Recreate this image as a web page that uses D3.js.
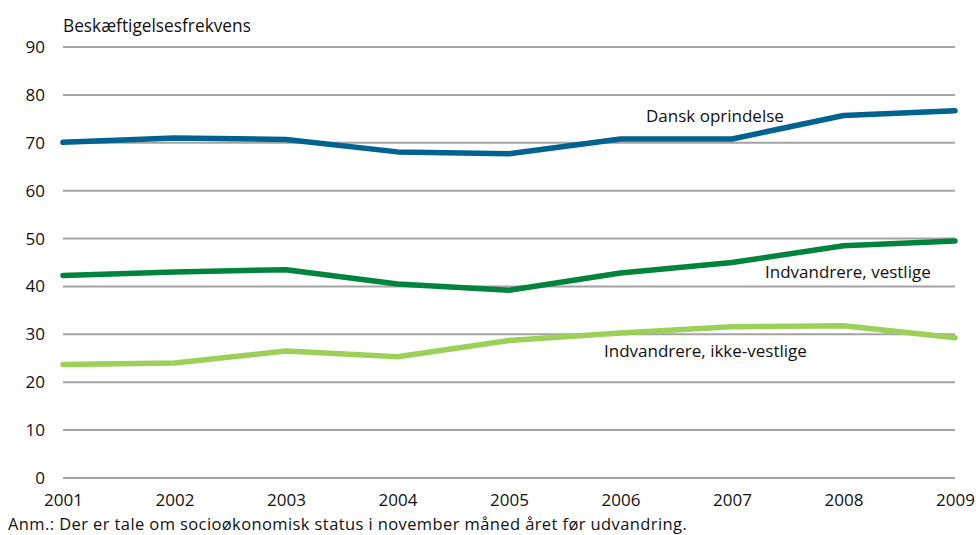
<!DOCTYPE html>
<html>
<head>
<meta charset="utf-8">
<script src="https://cdn.jsdelivr.net/npm/d3@7"></script>
<style>
  body { margin: 0; background: #fff; }
  text { font-family: "Open Sans", sans-serif; fill: #111; }
</style>
</head>
<body>
<div id="chart"></div>
<script>
var width = 976, height = 535;

// Data
var years = [2001, 2002, 2003, 2004, 2005, 2006, 2007, 2008, 2009];
var dansk = [70.1, 71.0, 70.7, 68.1, 67.7, 70.8, 70.8, 75.7, 76.7];
var vestlige = [42.3, 43.0, 43.5, 40.5, 39.2, 42.8, 45.0, 48.5, 49.5];
var ikkeVestlige = [23.7, 24.0, 26.5, 25.3, 28.7, 30.3, 31.6, 31.8, 29.3];
var yTicks = [0, 10, 20, 30, 40, 50, 60, 70, 80, 90];

var series = [
  { name: "Dansk oprindelse", values: dansk, color: "#00628f", lx: 646, ly: 122 },
  { name: "Indvandrere, vestlige", values: vestlige, color: "#00843d", lx: 765, ly: 278 },
  { name: "Indvandrere, ikke-vestlige", values: ikkeVestlige, color: "#9cd058", lx: 604, ly: 357 }
];

var svg = d3.select('#chart')
  .append('svg')
  .attr('width', width)
  .attr('height', height);

var x = d3.scaleLinear().domain([2001, 2009]).range([63, 955]);
var y = d3.scaleLinear().domain([0, 90]).range([478, 47]);

// gridlines
svg.append('g')
  .selectAll('line')
  .data(yTicks)
  .enter()
  .append('line')
  .attr('x1', x(2001))
  .attr('x2', x(2009))
  .attr('y1', d => y(d))
  .attr('y2', d => y(d))
  .attr('stroke', '#a3a3a3')
  .attr('stroke-width', 2);

// y axis labels
var leftAxis = d3.axisLeft(y).tickValues(yTicks).tickSize(0).tickPadding(18);
svg.append('g')
  .attr('transform', `translate(${x(2001)},0)`)
  .call(leftAxis)
  .call(g => g.select('.domain').remove())
  .selectAll('text')
  .style('font-size', '17px')
  .attr('fill', '#111');

// x axis labels
var bottomAxis = d3.axisBottom(x).tickValues(years).tickFormat(d3.format('d')).tickSize(0).tickPadding(16);
svg.append('g')
  .attr('transform', `translate(0,${y(0)})`)
  .call(bottomAxis)
  .call(g => g.select('.domain').remove())
  .selectAll('text')
  .style('font-size', '17px')
  .attr('fill', '#111');

// lines
var line = d3.line()
  .x((d, i) => x(years[i]))
  .y(d => y(d));

series.forEach(function(s) {
  svg.append('path')
    .datum(s.values)
    .attr('d', line)
    .attr('fill', 'none')
    .attr('stroke', s.color)
    .attr('stroke-width', 5.5)
    .attr('stroke-linejoin', 'round')
    .attr('stroke-linecap', 'round');

  svg.append('text')
    .attr('x', s.lx)
    .attr('y', s.ly)
    .style('font-size', '17px')
    .text(s.name);
});

// title
svg.append('text')
  .attr('x', 63)
  .attr('y', 32)
  .style('font-size', '17.3px')
  .text('Beskæftigelsesfrekvens');

// note
svg.append('text')
  .attr('x', 8)
  .attr('y', 530)
  .style('font-size', '16.5px')
  .style('letter-spacing', '0.4px')
  .text('Anm.: Der er tale om socioøkonomisk status i november måned året før udvandring.');
</script>
</body>
</html>
